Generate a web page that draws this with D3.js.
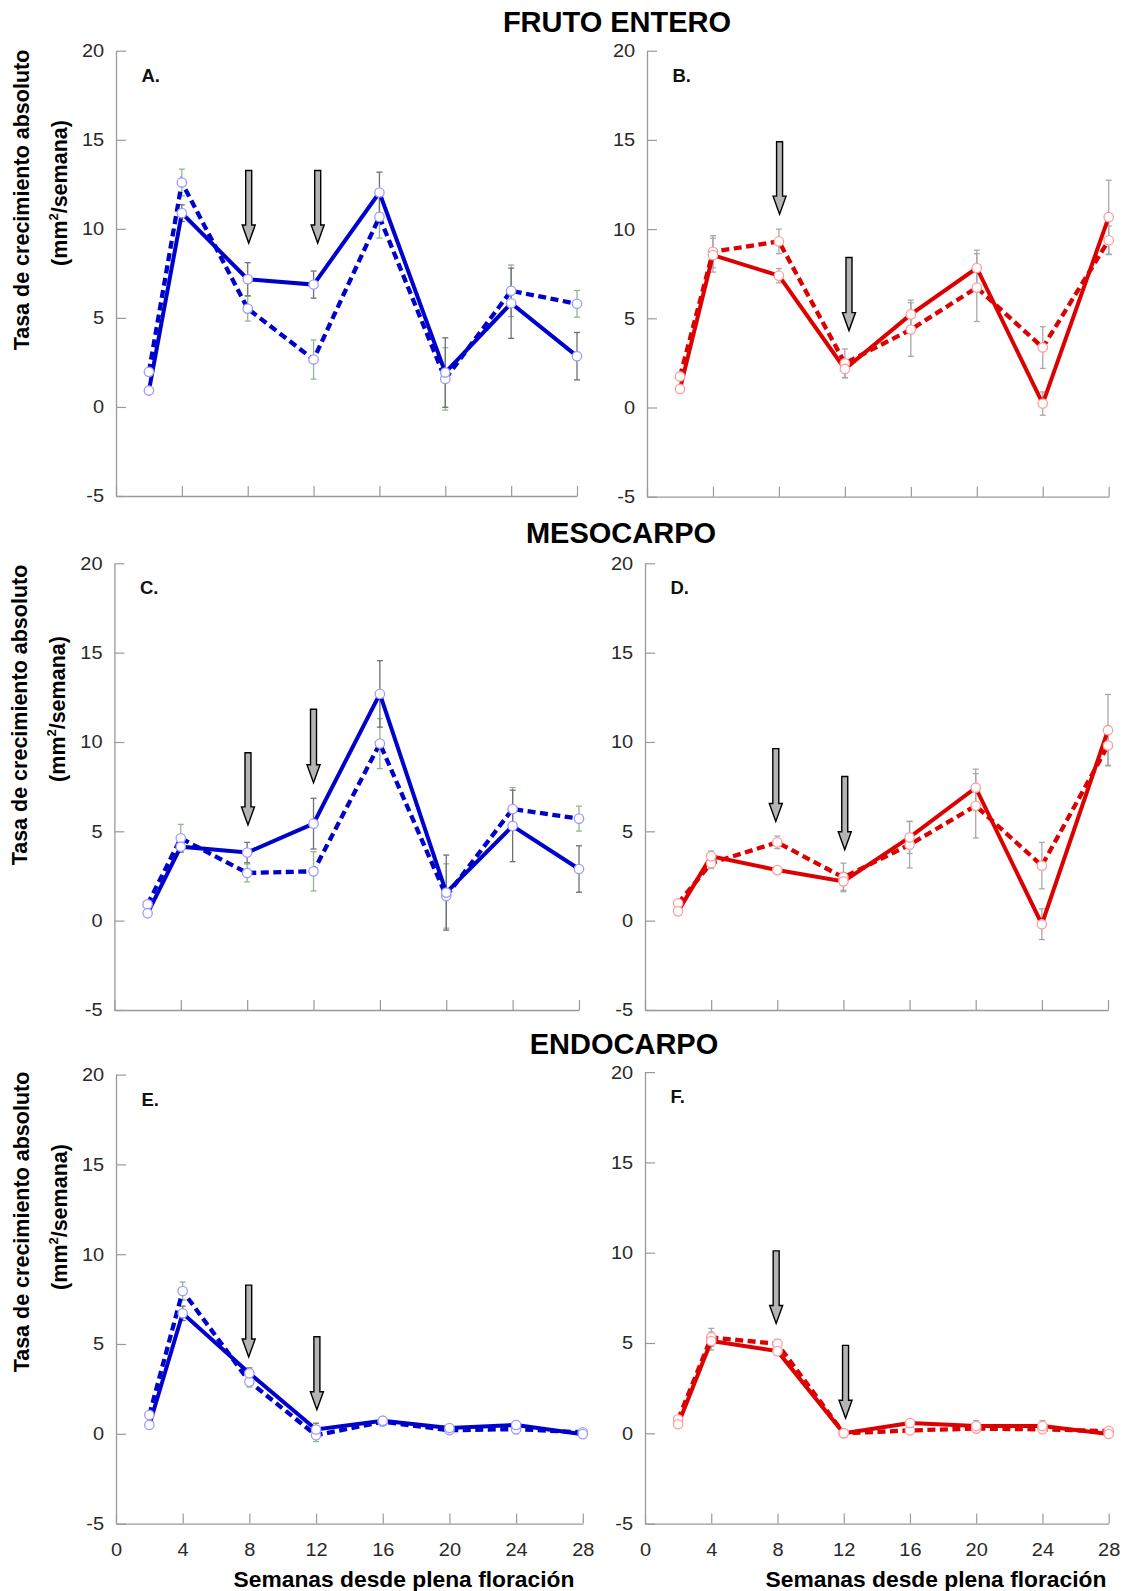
<!DOCTYPE html>
<html>
<head>
<meta charset="utf-8">
<script src="https://cdn.jsdelivr.net/npm/d3@7"></script>
<style>
  html, body { margin: 0; padding: 0; background: #fff; }
  svg { display: block; font-family: "Liberation Sans", Arial, sans-serif; }
</style>
</head>
<body>
<svg id="chart" width="1126" height="1591"></svg>
<script>
// ---------------- DATA ----------------
const weeks = [2, 4, 8, 12, 16, 20, 24, 28];
const xTickValues = [0, 4, 8, 12, 16, 20, 24, 28];
const yTickValues = [-5, 0, 5, 10, 15, 20];
const sectionTitles = ["FRUTO ENTERO", "MESOCARPO", "ENDOCARPO"];
const panelLabels = ["A.", "B.", "C.", "D.", "E.", "F."];
const yTitleLine1 = "Tasa de crecimiento absoluto";
const xTitle = "Semanas desde plena floración";

// A. Fruto entero (blue)
const frutoBlueSolid     = [0.92, 10.88, 7.17, 6.87, 12.04, 1.93, 5.82, 2.85];
const frutoBlueSolidErr  = [0.20, 0.47, 0.93, 0.76, 1.14, 1.95, 1.97, 1.33];
const frutoBlueDashed    = [1.97, 12.60, 5.52, 2.66, 10.67, 1.57, 6.52, 5.79];
const frutoBlueDashedErr = [0.20, 0.75, 0.70, 1.10, 1.19, 1.75, 1.45, 0.75];
const frutoBlueArrows    = [{ week: 8.06, top: 13.27, tip: 9.2 }, { week: 12.25, top: 13.27, tip: 9.2 }];

// B. Fruto entero (red)
const frutoRedSolid      = [1.04, 8.54, 7.39, 2.16, 5.22, 7.82, 0.22, 10.67];
const frutoRedSolidErr   = [0.20, 0.95, 0.40, 0.50, 0.80, 1.00, 0.65, 2.07];
const frutoRedDashed     = [1.74, 8.73, 9.31, 2.48, 4.37, 6.72, 3.36, 9.37];
const frutoRedDashedErr  = [0.20, 0.90, 0.69, 0.80, 1.50, 1.90, 1.17, 0.80];
const frutoRedArrows     = [{ week: 8.04, top: 14.9, tip: 10.84 }, { week: 12.25, top: 8.41, tip: 4.31 }];

// C. Mesocarpo (blue)
const mesoBlueSolid      = [0.41, 4.14, 3.81, 5.43, 12.69, 1.57, 5.30, 2.89];
const mesoBlueSolidErr   = [0.15, 0.30, 0.57, 1.42, 1.86, 2.10, 2.00, 1.30];
const mesoBlueDashed     = [0.91, 4.61, 2.67, 2.76, 9.91, 1.38, 6.25, 5.71];
const mesoBlueDashedErr  = [0.15, 0.78, 0.50, 1.10, 1.40, 1.80, 1.20, 0.70];
const mesoBlueArrows     = [{ week: 8.05, top: 9.4, tip: 5.36 }, { week: 12.0, top: 11.83, tip: 7.72 }];

// D. Mesocarpo (red)
const mesoRedSolid       = [0.52, 3.60, 2.83, 2.20, 4.66, 7.44, -0.20, 10.66];
const mesoRedSolidErr    = [0.10, 0.30, 0.15, 0.50, 0.90, 1.04, 0.86, 2.00];
const mesoRedDashed      = [0.97, 3.22, 4.38, 2.42, 4.25, 6.43, 3.08, 9.80];
const mesoRedDashedErr   = [0.10, 0.30, 0.35, 0.80, 1.30, 1.80, 1.30, 1.10];
const mesoRedArrows      = [{ week: 7.91, top: 9.63, tip: 5.55 }, { week: 12.08, top: 8.07, tip: 3.97 }];

// E. Endocarpo (blue)
const endoBlueSolid      = [0.49, 6.71, 3.37, 0.24, 0.73, 0.32, 0.49, -0.02];
const endoBlueSolidErr   = [0.10, 0.40, 0.30, 0.35, 0.20, 0.15, 0.20, 0.15];
const endoBlueDashed     = [1.05, 7.95, 2.90, -0.08, 0.67, 0.20, 0.26, 0.08];
const endoBlueDashedErr  = [0.10, 0.50, 0.30, 0.35, 0.20, 0.15, 0.25, 0.10];
const endoBlueArrows     = [{ week: 7.96, top: 8.28, tip: 4.28 }, { week: 12.05, top: 5.4, tip: 1.34 }];

// F. Endocarpo (red)
const endoRedSolid       = [0.50, 5.11, 4.55, 0.00, 0.57, 0.40, 0.40, -0.04];
const endoRedSolidErr    = [0.10, 0.50, 0.20, 0.10, 0.15, 0.30, 0.30, 0.10];
const endoRedDashed      = [0.77, 5.31, 4.95, 0.00, 0.16, 0.26, 0.22, 0.12];
const endoRedDashedErr   = [0.10, 0.50, 0.25, 0.10, 0.15, 0.20, 0.20, 0.10];
const endoRedArrows      = [{ week: 7.92, top: 10.1, tip: 6.08 }, { week: 12.11, top: 4.87, tip: 0.83 }];

// ---------------- STYLE / LAYOUT ----------------
const BLUE = "#0000cc", RED = "#dd0000";
const blueStyle = { line: BLUE, marker: "#9c9cff", errSolid: "#707070", errDashed: "#8fb88f" };
const redStyle  = { line: RED,  marker: "#ff9c9c", errSolid: "#a8a8a8", errDashed: "#a8a8a8" };

const panels = [
  { label: panelLabels[0], box: { x0: 116.0, x1: 577.0, yT: 50.7,   yB: 496.0 },  solid: frutoBlueSolid, solidErr: frutoBlueSolidErr, dashed: frutoBlueDashed, dashedErr: frutoBlueDashedErr, arrows: frutoBlueArrows, st: blueStyle, xLabels: false, yTitle: { c1: [21, 200], c2: [61, 193] } },
  { label: panelLabels[1], box: { x0: 647.0, x1: 1108.7, yT: 50.7,  yB: 496.7 },  solid: frutoRedSolid, solidErr: frutoRedSolidErr, dashed: frutoRedDashed, dashedErr: frutoRedDashedErr, arrows: frutoRedArrows, st: redStyle, xLabels: false },
  { label: panelLabels[2], box: { x0: 114.4, x1: 579.0, yT: 563.3,  yB: 1010.0 }, solid: mesoBlueSolid, solidErr: mesoBlueSolidErr, dashed: mesoBlueDashed, dashedErr: mesoBlueDashedErr, arrows: mesoBlueArrows, st: blueStyle, xLabels: false, yTitle: { c1: [19, 715], c2: [59, 709] } },
  { label: panelLabels[3], box: { x0: 645.0, x1: 1108.0, yT: 563.3, yB: 1010.0 }, solid: mesoRedSolid, solidErr: mesoRedSolidErr, dashed: mesoRedDashed, dashedErr: mesoRedDashedErr, arrows: mesoRedArrows, st: redStyle, xLabels: false },
  { label: panelLabels[4], box: { x0: 116.0, x1: 582.8, yT: 1074.6, yB: 1523.6 }, solid: endoBlueSolid, solidErr: endoBlueSolidErr, dashed: endoBlueDashed, dashedErr: endoBlueDashedErr, arrows: endoBlueArrows, st: blueStyle, xLabels: true, xTitleX: 404, yTitle: { c1: [21, 1222], c2: [61, 1217] } },
  { label: panelLabels[5], box: { x0: 645.0, x1: 1108.7, yT: 1072.1, yB: 1523.6 }, solid: endoRedSolid, solidErr: endoRedSolidErr, dashed: endoRedDashed, dashedErr: endoRedDashedErr, arrows: endoRedArrows, st: redStyle, xLabels: true, xTitleX: 936 }
];

const svg = d3.select("#chart");
const plainFmt = d => String(d);

// Section titles
const titlePos = [[617, 32], [621, 543], [624, 1054]];
sectionTitles.forEach((t, i) => {
  svg.append("text")
    .attr("x", titlePos[i][0]).attr("y", titlePos[i][1])
    .attr("text-anchor", "middle")
    .attr("font-size", 29).attr("font-weight", "bold").attr("fill", "#000")
    .text(t);
});

panels.forEach(p => {
  const b = p.box;
  const x = d3.scaleLinear().domain([0, 28]).range([b.x0, b.x1]);
  const y = d3.scaleLinear().domain([-5, 20]).range([b.yB, b.yT]);
  const g = svg.append("g");

  // Y axis
  const yAxis = d3.axisLeft(y).tickValues(yTickValues).tickSizeInner(-10).tickSizeOuter(0).tickPadding(11).tickFormat(plainFmt);
  const gy = g.append("g").attr("transform", `translate(${b.x0},0)`).call(yAxis);
  gy.select(".domain").attr("stroke", "#9a9a9a").attr("stroke-width", 1.3);
  gy.selectAll(".tick line").attr("stroke", "#9a9a9a").attr("stroke-width", 1.2);
  gy.selectAll(".tick text").attr("font-size", 18.5).attr("fill", "#2a2a2a").attr("font-family", "Liberation Sans, Arial, sans-serif")
    .attr("transform", function () { return `scale(1.08,1)`; });

  // X axis
  const xAxis = d3.axisBottom(x).tickValues(xTickValues).tickSizeInner(-10).tickSizeOuter(0).tickPadding(19)
    .tickFormat(p.xLabels ? plainFmt : () => "");
  const gx = g.append("g").attr("transform", `translate(0,${b.yB})`).call(xAxis);
  gx.select(".domain").attr("stroke", "#9a9a9a").attr("stroke-width", 1.3);
  gx.selectAll(".tick line").attr("stroke", "#9a9a9a").attr("stroke-width", 1.2);
  gx.selectAll(".tick text").attr("font-size", 18.5).attr("fill", "#2a2a2a").attr("font-family", "Liberation Sans, Arial, sans-serif")
    .attr("transform", "scale(1.08,1)");

  // Panel label
  g.append("text").attr("x", b.x0 + 25.5).attr("y", b.yT + 31)
    .attr("font-size", 18.5).attr("font-weight", "bold").attr("fill", "#111").text(p.label);

  // Error bars
  const drawErr = (vals, errs, color) => {
    const eg = g.append("g").attr("stroke", color).attr("stroke-width", 1.3).attr("fill", "none");
    weeks.forEach((w, i) => {
      const cx = x(w), y1 = y(vals[i] + errs[i]), y2 = y(vals[i] - errs[i]);
      eg.append("line").attr("x1", cx).attr("x2", cx).attr("y1", y1).attr("y2", y2);
      eg.append("line").attr("x1", cx - 3).attr("x2", cx + 3).attr("y1", y1).attr("y2", y1);
      eg.append("line").attr("x1", cx - 3).attr("x2", cx + 3).attr("y1", y2).attr("y2", y2);
    });
  };
  drawErr(p.dashed, p.dashedErr, p.st.errDashed);
  drawErr(p.solid, p.solidErr, p.st.errSolid);

  const line = d3.line().x((d, i) => x(weeks[i])).y(d => y(d));
  g.append("path").attr("d", line(p.dashed)).attr("fill", "none")
    .attr("stroke", p.st.line).attr("stroke-width", 4.3).attr("stroke-dasharray", "8,4.5");
  g.append("path").attr("d", line(p.solid)).attr("fill", "none")
    .attr("stroke", p.st.line).attr("stroke-width", 4);

  [p.dashed, p.solid].forEach(series => {
    g.append("g").selectAll("circle").data(series).join("circle")
      .attr("cx", (d, i) => x(weeks[i])).attr("cy", d => y(d)).attr("r", 4.7)
      .attr("fill", "#fff").attr("stroke", p.st.marker).attr("stroke-width", 1.3);
  });

  // Arrows
  p.arrows.forEach(a => {
    const cx = x(a.week), yt = y(a.top), yp = y(a.tip);
    const sw = 3, hw = 6.5, hl = 18;
    const path = `M${cx - sw},${yt} L${cx + sw},${yt} L${cx + sw},${yp - hl} L${cx + hw},${yp - hl} L${cx},${yp} L${cx - hw},${yp - hl} L${cx - sw},${yp - hl} Z`;
    g.append("path").attr("d", path).attr("fill", "#b4b4b4").attr("stroke", "#000").attr("stroke-width", 1.4).attr("stroke-linejoin", "miter");
  });

  // Y title
  if (p.yTitle) {
    const fs = 21.5;
    g.append("text")
      .attr("transform", `translate(${p.yTitle.c1[0] + fs * 0.36},${p.yTitle.c1[1]}) rotate(-90)`)
      .attr("text-anchor", "middle").attr("font-size", fs).attr("font-weight", "bold").attr("fill", "#000")
      .text(yTitleLine1);
    const t2 = g.append("text")
      .attr("transform", `translate(${p.yTitle.c2[0] + fs * 0.3},${p.yTitle.c2[1]}) rotate(-90)`)
      .attr("text-anchor", "middle").attr("font-size", fs).attr("font-weight", "bold").attr("fill", "#000");
    t2.append("tspan").text("(mm");
    t2.append("tspan").attr("font-size", fs * 0.6).attr("dy", -fs * 0.42).text("2");
    t2.append("tspan").attr("dy", fs * 0.42).text("/semana)");
  }

  // X title
  if (p.xLabels) {
    g.append("text").attr("x", p.xTitleX).attr("y", 1587)
      .attr("text-anchor", "middle").attr("font-size", 22.8).attr("font-weight", "bold").attr("fill", "#000")
      .text(xTitle);
  }
});
</script>
</body>
</html>
